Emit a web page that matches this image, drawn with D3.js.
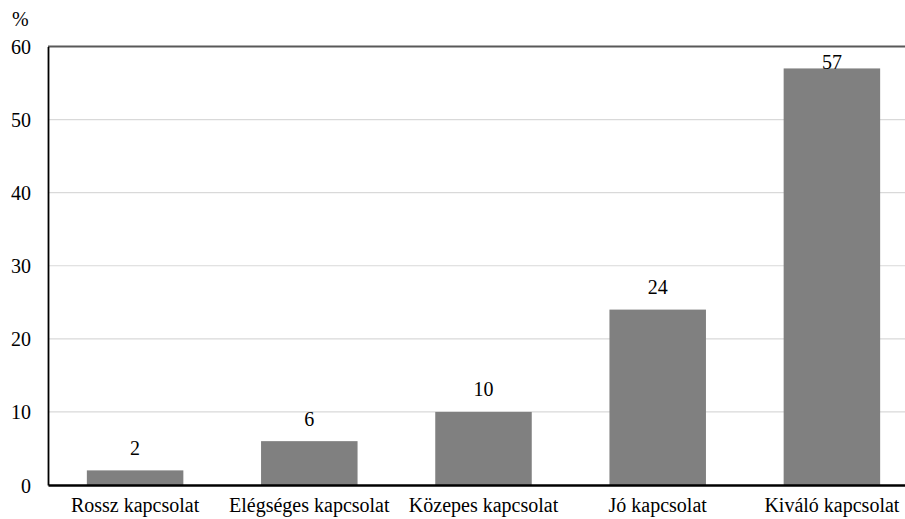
<!DOCTYPE html>
<html>
<head>
<meta charset="utf-8">
<script src="https://cdn.jsdelivr.net/npm/d3@7/dist/d3.min.js"></script>
<style>
  html, body { margin: 0; padding: 0; background: #fff; }
  svg { display: block; }
</style>
</head>
<body>
<svg id="chart" width="905" height="519"></svg>
<script>
const categories = ["Rossz kapcsolat", "Elégséges kapcsolat", "Közepes kapcsolat", "Jó kapcsolat", "Kiváló kapcsolat"];
const values = [2, 6, 10, 24, 57];
const yTicks = [0, 10, 20, 30, 40, 50, 60];
const unitLabel = "%";

(function () {
const svg = d3.select("#chart");
const mLeft = 48, mRight = 919, mTop = 46.5, mBottom = 485;
const fontSize = 20;
const FONT = "'Liberation Serif', 'Times New Roman', Times, 'DejaVu Serif', serif";

const x = d3.scaleBand().domain(categories).range([mLeft, mRight]).paddingInner(0.446).paddingOuter(0.223);
const y = d3.scaleLinear().domain([0, 60]).range([mBottom, mTop]);

svg.append("g").selectAll("line").data(yTicks.filter(t => t > 0 && t < 60)).join("line")
  .attr("x1", mLeft).attr("x2", mRight)
  .attr("y1", d => y(d)).attr("y2", d => y(d))
  .attr("stroke", "#d9d9d9").attr("stroke-width", 1.2);

svg.append("line").attr("x1", mLeft).attr("x2", mRight).attr("y1", y(60)).attr("y2", y(60))
  .attr("stroke", "#595959").attr("stroke-width", 2);

svg.append("g").selectAll("rect").data(values).join("rect")
  .attr("x", (d, i) => x(categories[i]))
  .attr("width", x.bandwidth())
  .attr("y", d => y(d))
  .attr("height", d => y(0) - y(d))
  .attr("fill", "#808080");

svg.append("g").selectAll("text").data(values).join("text")
  .attr("x", (d, i) => x(categories[i]) + x.bandwidth() / 2)
  .attr("y", d => Math.max(y(d) - 15.5, y(60) + 22))
  .attr("text-anchor", "middle")
  .style("font-family", FONT).style("font-size", fontSize + "px").style("fill", "#000")
  .text(d => d);

const yAxis = d3.axisLeft(y).tickValues(yTicks).tickSize(0).tickPadding(17);
const gy = svg.append("g").attr("transform", `translate(${mLeft},0)`).call(yAxis);
gy.select(".domain").attr("stroke", "#000").attr("stroke-width", 1.8);
gy.selectAll("text").style("font-family", FONT).style("font-size", fontSize + "px").style("fill", "#000").attr("dy", "0.35em");

const xAxis = d3.axisBottom(x).tickSize(0).tickPadding(13);
const gx = svg.append("g").attr("transform", `translate(0,${mBottom})`).call(xAxis);
gx.select(".domain").attr("stroke", "#000").attr("stroke-width", 2.5);
gx.selectAll("text").style("font-family", FONT).style("font-size", fontSize + "px").style("fill", "#000");

svg.append("text").attr("x", 12).attr("y", 26)
  .style("font-family", FONT).style("font-size", fontSize + "px").style("fill", "#000")
  .text(unitLabel);
})();
</script>
</body>
</html>
